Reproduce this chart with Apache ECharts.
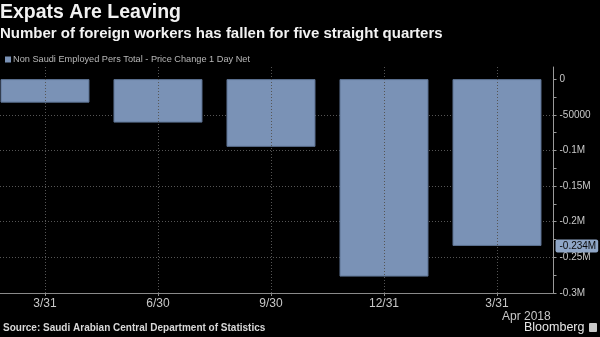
<!DOCTYPE html>
<html>
<head>
<meta charset="utf-8">
<style>
html,body{margin:0;padding:0;background:#000;}
#chart{width:600px;height:337px;}
</style>
<script src="https://cdn.jsdelivr.net/npm/echarts@6/dist/echarts.min.js"></script>
</head>
<body>
<div id="chart"></div>
<script>
const titleText = 'Expats Are Leaving';
const subtitleText = 'Number of foreign workers has fallen for five straight quarters';
const seriesName = 'Non Saudi Employed Pers Total - Price Change 1 Day Net';
const categories = ['3/31', '6/30', '9/30', '12/31', '3/31'];
const values = [-33000, -61000, -95000, -277000, -234000];
const yLabelValues = [0, -50000, -100000, -150000, -200000, -250000, -300000];
const yTickValues = [0, -25000, -50000, -75000, -100000, -125000, -150000, -175000, -200000, -225000, -250000, -275000, -300000];
const yGridValues = [-50000, -100000, -150000, -200000, -250000, -300000];
const lastValueLabel = '-0.234M';
const dateNote = 'Apr 2018';
const sourceText = 'Source: Saudi Arabian Central Department of Statistics';
const brandText = 'Bloomberg';

function fmt(v) {
  if (v === 0) return '0';
  if (Math.abs(v) < 100000) return String(v);
  return (v / 1e6) + 'M';
}

const catIndex = categories.map((c, i) => i);
const barData = values.map((v, i) => [i, v]);

const chart = echarts.init(document.getElementById('chart'));
const FONT = 'Liberation Sans';
const GRID = '#555555';
chart.setOption({
  backgroundColor: '#000',
  animation: false,
  textStyle: { fontFamily: FONT },
  title: [
    { text: titleText, left: 0, top: 3, padding: 0, textStyle: { color: '#f2f2f2', fontSize: 19.5, fontWeight: 'bold', fontFamily: FONT } },
    { text: subtitleText, left: 0, top: 26, padding: 0, textStyle: { color: '#f2f2f2', fontSize: 15, fontWeight: 'bold', fontFamily: FONT } }
  ],
  legend: {
    left: 5, top: 55, padding: 0, itemWidth: 6, itemHeight: 6, itemGap: 4,
    icon: 'rect',
    itemStyle: { borderWidth: 0 },
    textStyle: { color: '#b8b8b8', fontSize: 9.2, fontFamily: FONT, padding: [0, 0, 0, -3] },
    data: [seriesName]
  },
  grid: { left: 0, right: 46.5, top: 67, bottom: 44 },
  xAxis: {
    type: 'value',
    min: -0.398, max: 4.5,
    axisLine: { show: true, onZero: false, lineStyle: { color: '#8a8a8a', width: 1 } },
    axisTick: { show: true, length: 3, customValues: catIndex, lineStyle: { color: '#8a8a8a' } },
    axisLabel: { customValues: catIndex, color: '#c8c8c8', fontSize: 12, margin: 5, formatter: v => categories[v] },
    splitLine: { show: false }
  },
  yAxis: [
    {
      type: 'value', position: 'right', min: -300000, max: 17000,
      axisLine: { show: true, onZero: false, lineStyle: { color: '#9a9a9a' } },
      axisTick: { show: true, length: 3, customValues: yTickValues, lineStyle: { color: '#9a9a9a' } },
      axisLabel: { customValues: yLabelValues, color: '#c8c8c8', fontSize: 10, margin: 6, formatter: fmt },
      splitLine: { show: false }
    },
    {
      type: 'value', position: 'right', min: -300000, max: 17000,
      axisLine: { show: false, onZero: false },
      axisTick: { show: false, customValues: yGridValues },
      axisLabel: { show: false },
      splitLine: { show: true, lineStyle: { color: GRID, width: 1, type: [1, 2] } }
    }
  ],
  series: [
    {
      name: 'grid',
      type: 'line',
      data: [],
      z: 1,
      silent: true,
      markLine: {
        silent: true,
        symbol: 'none',
        label: { show: false },
        lineStyle: { color: GRID, width: 1, type: [1, 2] },
        data: catIndex.map(i => ({ xAxis: i }))
      }
    },
    {
      name: seriesName,
      type: 'bar',
      data: barData,
      barWidth: 89,
      z: 3,
      itemStyle: { color: '#7a92b6', borderColor: '#5d7292', borderWidth: 1 },
      markLine: {
        silent: true,
        symbol: 'none',
        data: [{ yAxis: values[values.length - 1] }],
        lineStyle: { width: 0, color: 'rgba(0,0,0,0)' },
        label: {
          show: true,
          position: 'end', distance: 2,
          formatter: lastValueLabel,
          color: '#0a0a0a', fontSize: 10,
          backgroundColor: '#8fa6c6', padding: [2, 2, 1, 4], borderRadius: 2
        }
      }
    }
  ],
  graphic: [
    { type: 'text', left: 502, top: 311, style: { text: dateNote, fill: '#c8c8c8', font: '12px ' + FONT } },
    { type: 'text', left: 3, top: 323, style: { text: sourceText, fill: '#d8d8d8', font: 'bold 10px ' + FONT } },
    { type: 'text', left: 524, top: 321, style: { text: brandText, fill: '#e8e8e8', font: '12.5px ' + FONT } },
    { type: 'rect', left: 589, top: 323, shape: { width: 8, height: 9, r: 1 }, style: { fill: '#c8c8c8' } }
  ]
});
</script>
</body>
</html>
